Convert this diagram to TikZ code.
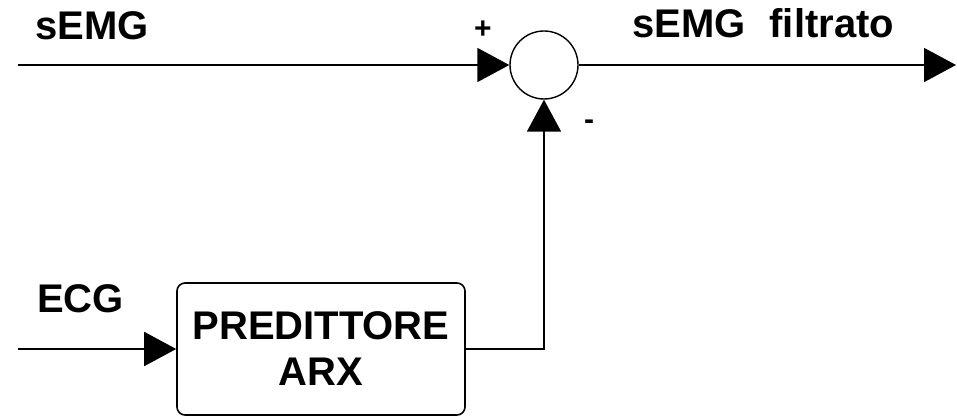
\documentclass[tikz,border=0pt]{standalone}
\usepackage{fontspec}
\setmainfont{Liberation Sans}
\usetikzlibrary{arrows.meta}
\begin{document}
\begin{tikzpicture}[x=1pt,y=1pt,
  lbl/.style={font=\fontsize{40}{46}\selectfont\bfseries, inner sep=0pt},
  sgn/.style={font=\fontsize{30}{36}\selectfont\bfseries, inner sep=0pt},
  wire/.style={line width=1.8pt, draw=black},
  arr/.style={wire, -{Triangle[length=32pt,width=34pt]}},
  blk/.style={draw=black, line width=1.6pt, rounded corners=8pt, minimum width=288pt, minimum height=132pt, align=center, font=\fontsize{40}{46}\selectfont\bfseries}
]
\useasboundingbox (0,0) rectangle (957,417);
\node[circle, draw=black, line width=1.4pt, minimum size=68pt, inner sep=0pt] (sum) at (544,352) {};
\coordinate (inS) at (18,352);
\coordinate (out) at (956,352);
\node[blk] (pred) at (321,68) {PREDITTORE\\ARX};
\coordinate (inE) at (18,68);
\draw[arr] (inS) -- (sum.west);
\draw[arr] (sum.east) -- (out);
\draw[arr] (inE) -- (pred.west);
\draw[arr] (pred.east) -| (sum.south);
\node[lbl, anchor=base west] (tS) at (35,377) {sEMG};
\node[lbl, anchor=base west] (tF) at (632,379) {sEMG\hspace{0.6em}filtrato};
\node[lbl, anchor=base west] (tE) at (37,104) {ECG};
\node[sgn] (plus) at (483,387) {+};
\node[sgn] (minus) at (589,292) {-};
\end{tikzpicture}
\end{document}
